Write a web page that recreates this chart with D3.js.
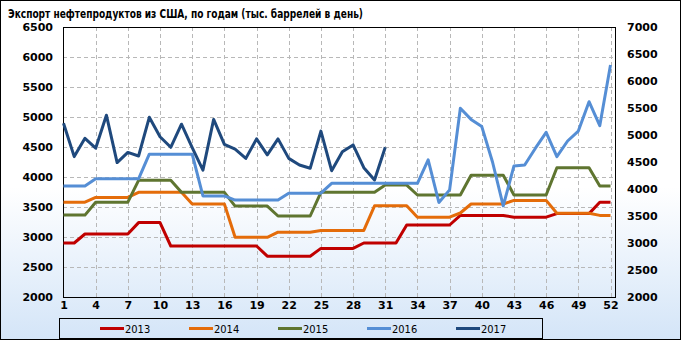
<!DOCTYPE html>
<html>
<head>
<meta charset="utf-8">
<script src="https://cdn.jsdelivr.net/npm/d3@7"></script>
<style>
  body { margin: 0; padding: 0; }
  .tick text { font-family: "DejaVu Sans"; font-weight: bold; font-size: 11px; fill: #000; }
</style>
</head>
<body>
<div class="chart"></div>
<script>
// weeks 1..52
var weeks = d3.range(1, 53);
var years = ["2013", "2014", "2015", "2016", "2017"];
var colors = ["#c00000", "#e46c0a", "#5f7530", "#558ed5", "#1f497d"];
var leftTicks = [2000, 2500, 3000, 3500, 4000, 4500, 5000, 5500, 6000, 6500];
var rightTicks = [2000, 2500, 3000, 3500, 4000, 4500, 5000, 5500, 6000, 6500, 7000];
var xTicks = [1, 4, 7, 10, 13, 16, 19, 22, 25, 28, 31, 34, 37, 40, 43, 46, 49, 52];

var s2013 = [2900, 2900, 3050, 3050, 3050, 3050, 3050, 3240, 3240, 3240,
  2850, 2850, 2850, 2850, 2850, 2850, 2850, 2850, 2850, 2680,
  2680, 2680, 2680, 2680, 2810, 2810, 2810, 2810, 2900, 2900,
  2900, 2900, 3200, 3200, 3200, 3200, 3200, 3360, 3360, 3360,
  3360, 3360, 3330, 3330, 3330, 3330, 3390, 3390, 3390, 3390,
  3580, 3580];
var s2014 = [3580, 3580, 3580, 3660, 3660, 3660, 3660, 3745, 3745, 3745,
  3745, 3745, 3550, 3550, 3550, 3550, 2995, 2995, 2995, 2995,
  3080, 3080, 3080, 3080, 3110, 3110, 3110, 3110, 3110, 3520,
  3520, 3520, 3520, 3330, 3330, 3330, 3330, 3400, 3550, 3550,
  3550, 3550, 3610, 3610, 3610, 3610, 3395, 3395, 3395, 3395,
  3360, 3360];
var s2015 = [3365, 3365, 3365, 3580, 3580, 3580, 3580, 3945, 3945, 3945,
  3945, 3745, 3745, 3745, 3745, 3745, 3515, 3515, 3515, 3515,
  3350, 3350, 3350, 3350, 3745, 3745, 3745, 3745, 3745, 3745,
  3865, 3865, 3865, 3700, 3700, 3700, 3700, 3700, 4030, 4030,
  4030, 4030, 3700, 3700, 3700, 3700, 4155, 4155, 4155, 4155,
  3850, 3850];
var s2016 = [3850, 3850, 3850, 3970, 3970, 3970, 3970, 3970, 4380, 4380,
  4380, 4380, 4380, 3685, 3685, 3685, 3615, 3615, 3615, 3615,
  3615, 3730, 3730, 3730, 3730, 3895, 3895, 3895, 3895, 3895,
  3895, 3895, 3895, 3895, 4285, 3575, 3785, 5145, 4960, 4840,
  4250, 3520, 4185, 4200, 4480, 4745, 4340, 4600, 4765, 5255,
  4855, 5865];
var s2017 = [4895, 4340, 4645, 4480, 5030, 4240, 4410, 4350, 4995, 4670,
  4495, 4880, 4490, 4115, 4960, 4545, 4465, 4310, 4635, 4370,
  4635, 4310, 4200, 4145, 4765, 4105, 4420, 4535, 4155, 3950,
  4495];
var series = [s2013, s2014, s2015, s2016, s2017];

var W = 681, H = 341;
var plotL = 63, plotR = 615, plotT = 27, plotB = 297;

var svg = d3.select(".chart").append("svg")
  .attr("width", W)
  .attr("height", H);

var grad = svg.append("defs").append("linearGradient")
  .attr("id", "bg")
  .attr("x1", 0).attr("y1", 0).attr("x2", 0).attr("y2", 1);
grad.append("stop").attr("offset", "0%").attr("stop-color", "#ffffff");
grad.append("stop").attr("offset", "55%").attr("stop-color", "#ffffff");
grad.append("stop").attr("offset", "100%").attr("stop-color", "#d4e5f8");

svg.append("rect")
  .attr("x", 0.5).attr("y", 0.5)
  .attr("width", W - 1).attr("height", H - 2)
  .attr("fill", "url(#bg)")
  .attr("stroke", "#000");

svg.append("text")
  .attr("x", 8)
  .attr("y", 18)
  .attr("textLength", 355)
  .attr("lengthAdjust", "spacingAndGlyphs")
  .style("font-family", "DejaVu Sans Condensed")
  .style("font-weight", "bold")
  .style("font-size", "12.5px")
  .text("Экспорт нефтепродуктов из США, по годам (тыс. баррелей в день)");

var x = d3.scaleLinear().domain([1, 52]).range([63.5, 610.5]);
var y = d3.scaleLinear().domain([2000, 6500]).range([plotB, plotT]);
var y2 = d3.scaleLinear().domain([2000, 7000]).range([plotB, plotT]);

// gridlines
svg.append("g")
  .selectAll("line.h")
  .data(leftTicks.slice(1, -1))
  .enter().append("line")
  .attr("x1", plotL).attr("x2", plotR)
  .attr("y1", function(d) { return Math.round(y(d)) + 0.5; })
  .attr("y2", function(d) { return Math.round(y(d)) + 0.5; })
  .attr("stroke", "#b8b8b8")
  .attr("stroke-dasharray", "4,3");

svg.append("g")
  .selectAll("line.v")
  .data(xTicks.slice(1))
  .enter().append("line")
  .attr("y1", plotT).attr("y2", plotB)
  .attr("x1", function(d) { return Math.round(x(d)) + 0.5; })
  .attr("x2", function(d) { return Math.round(x(d)) + 0.5; })
  .attr("stroke", "#b8b8b8")
  .attr("stroke-dasharray", "4,3");

// plot frame
svg.append("rect")
  .attr("x", plotL + 0.5).attr("y", plotT + 0.5)
  .attr("width", plotR - plotL).attr("height", plotB - plotT)
  .attr("fill", "none")
  .attr("stroke", "#000");

// axes (labels only)
svg.append("g")
  .attr("transform", "translate(" + (plotL - 10) + ",0)")
  .call(d3.axisLeft(y).tickValues(leftTicks).tickFormat(d3.format("d")).tickSize(0).tickPadding(0))
  .call(function(g) { g.select(".domain").remove(); });

svg.append("g")
  .attr("transform", "translate(" + (plotR + 12) + ",0)")
  .call(d3.axisRight(y2).tickValues(rightTicks).tickFormat(d3.format("d")).tickSize(0).tickPadding(0))
  .call(function(g) { g.select(".domain").remove(); });

svg.append("g")
  .attr("transform", "translate(0," + (plotB + 4) + ")")
  .call(d3.axisBottom(x).tickValues(xTicks).tickSize(0).tickPadding(0))
  .call(function(g) { g.select(".domain").remove(); });

// lines
var line = d3.line()
  .x(function(d, i) { return x(weeks[i]); })
  .y(function(d) { return y(d); });

svg.append("g")
  .selectAll("path")
  .data(series)
  .enter().append("path")
  .attr("d", line)
  .attr("fill", "none")
  .attr("stroke", function(d, i) { return colors[i]; })
  .attr("stroke-width", 3)
  .attr("stroke-linejoin", "round");

// legend
svg.append("rect")
  .attr("x", 59.5).attr("y", 318.5)
  .attr("width", 483).attr("height", 20)
  .attr("fill", "none")
  .attr("stroke", "#000");

var leg = svg.append("g")
  .selectAll("g")
  .data(years)
  .enter().append("g")
  .attr("transform", function(d, i) { return "translate(" + (100 + i * 89) + ",328)"; });

leg.append("line")
  .attr("x1", 0).attr("x2", 24)
  .attr("y1", 0.5).attr("y2", 0.5)
  .attr("stroke", function(d, i) { return colors[i]; })
  .attr("stroke-width", 3);

leg.append("text")
  .attr("x", 25)
  .attr("y", 4.5)
  .style("font-family", "DejaVu Sans Condensed")
  .style("font-size", "11px")
  .text(function(d) { return d; });
</script>
</body>
</html>
